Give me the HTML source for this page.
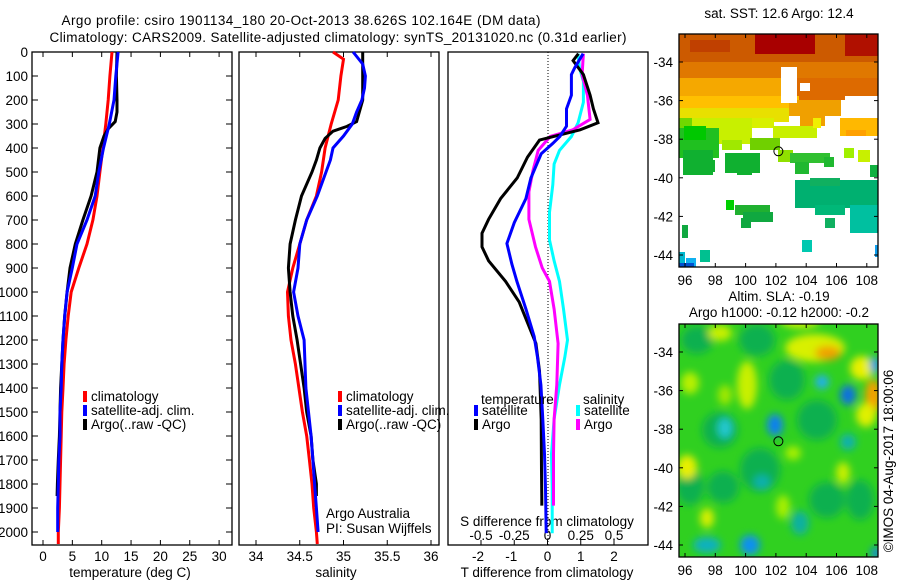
<!DOCTYPE html>
<html><head><meta charset="utf-8"><style>
html,body{margin:0;padding:0;background:#fff;}
svg{display:block;font-family:"Liberation Sans",sans-serif;}
text{fill:#000;font-size:13.5px;}
</style></head><body>
<svg id="fig" width="900" height="580" viewBox="0 0 900 580" xmlns="http://www.w3.org/2000/svg">
<defs>
<filter id="blur" x="-50%" y="-50%" width="200%" height="200%"><feGaussianBlur stdDeviation="4"/></filter>
<clipPath id="clipMap2"><rect x="679" y="324" width="199" height="233"/></clipPath>
<clipPath id="clipMap1"><rect x="679" y="34" width="199" height="233"/></clipPath>
</defs>
<text x="301" y="25" text-anchor="middle" font-size="14.5" textLength="479">Argo profile: csiro 1901134_180 20-Oct-2013 38.626S 102.164E (DM data)</text>
<text x="338" y="42" text-anchor="middle" font-size="14.5" textLength="577">Climatology: CARS2009. Satellite-adjusted climatology: synTS_20131020.nc (0.31d earlier)</text>
<g id="p1"></g>
<g id="p2"></g>
<g id="p3"></g>
<g id="m1"></g>
<g id="m2"></g>
<text transform="translate(893,461) rotate(-90)" text-anchor="middle" font-size="13.5">©IMOS 04-Aug-2017 18:00:06</text>
</svg>
<script>
// ---- data ----
const depthTick = [0,100,200,300,400,500,600,700,800,900,1000,1100,1200,1300,1400,1500,1600,1700,1800,1900,2000];
const tempTicks = [0,5,10,15,20,25,30];
const salTicks = [34,34.5,35,35.5,36];
const salTickLabels = ["34","34.5","35","35.5","36"];
const dTTicks = [-2,-1,0,1,2];
const dSTicks = [-0.5,-0.25,0,0.25,0.5];
const dSTickLabels = ["-0.5","-0.25","0","0.25","0.5"];

const tClimDepth = [0,100,200,300,400,500,600,700,800,900,1000,1100,1200,1300,1400,1500,1600,1700,1800,1900,2000,2050];
const tClim = [11.75,11.4,11.1,10.7,10.2,9.7,9.2,8.5,7.5,6.1,4.8,4.3,3.9,3.6,3.4,3.2,3.1,3.0,2.9,2.8,2.6,2.6];
const tSatDepth = [0,100,200,300,400,500,600,700,800,900,1000,1100,1200,1300,1400,1500,1600,1700,1800,1900,2000];
const tSat = [12.8,12.4,12.1,11.3,10.3,9.5,8.9,7.5,5.8,5.0,4.1,3.7,3.4,3.2,3.1,2.9,2.9,2.7,2.6,2.5,2.5];
const tArgoDepth = [0,100,200,250,290,320,350,400,500,600,700,800,900,1000,1100,1200,1300,1400,1500,1600,1700,1800,1850];
const tArgo = [12.6,12.5,12.6,12.6,12.3,11.1,10.4,9.7,9.2,8.2,6.8,5.5,4.6,4.1,3.7,3.4,3.2,3.0,2.9,2.8,2.6,2.45,2.4];

const sClimDepth = [0,30,100,200,250,300,400,500,600,700,800,900,1000,1100,1200,1300,1400,1500,1600,1700,1800,1900,2000,2050];
const sClim = [34.88,35.0,34.97,34.94,34.9,34.86,34.79,34.75,34.69,34.58,34.5,34.42,34.36,34.37,34.4,34.45,34.49,34.53,34.58,34.61,34.64,34.66,34.69,34.7];
const sSatDepth = [0,50,100,150,200,250,300,350,400,450,500,600,700,800,900,1000,1100,1200,1300,1400,1500,1600,1700,1800,1900,2000];
const sSat = [35.11,35.22,35.25,35.24,35.21,35.15,35.1,35.0,34.88,34.85,34.8,34.7,34.58,34.5,34.48,34.43,34.48,34.55,34.56,34.57,34.6,34.63,34.65,34.67,34.69,34.71];
const sArgoDepth = [0,100,200,290,310,330,360,400,450,500,600,700,800,900,1000,1100,1200,1300,1400,1500,1600,1700,1800,1850];
const sArgo = [35.22,35.22,35.22,35.15,35.04,34.88,34.79,34.73,34.69,34.64,34.52,34.45,34.39,34.37,34.39,34.42,34.47,34.51,34.55,34.58,34.63,34.65,34.69,34.69];

const dTSatDepth = [7,65,94,180,237,309,352,381,424,525,611,711,798,884,956,1071,1186,1272,1387,1530,1674,1818,2005];
const dTSat = [1.07,0.82,0.72,0.72,0.57,0.57,0.37,0.16,-0.19,-0.5,-0.65,-1.0,-1.22,-1.07,-0.92,-0.65,-0.4,-0.3,-0.2,-0.14,-0.09,-0.06,-0.04];
const dTArgoDepth = [7,36,94,180,237,295,324,367,438,525,611,697,755,812,870,956,1042,1128,1214,1329,1530,1746,1861,1890];
const dTArgo = [0.93,0.77,1.08,1.28,1.38,1.52,0.98,-0.24,-0.6,-0.91,-1.41,-1.77,-1.97,-1.97,-1.77,-1.26,-0.85,-0.6,-0.35,-0.24,-0.19,-0.18,-0.17,-0.17];
const dSSatDepth = [7,65,123,209,295,352,410,467,553,668,783,870,956,1071,1200,1272,1387,1530,1674,1818,2005];
const dSSat = [0.23,0.24,0.27,0.27,0.23,0.18,0.09,0.05,0.04,0.015,0.015,0.05,0.09,0.12,0.15,0.13,0.09,0.05,0.03,0.035,0.035];
const dSArgoDepth = [7,94,180,281,324,352,410,496,582,697,812,899,956,1071,1214,1387,1530,1674,1890];
const dSArgo = [0.27,0.26,0.3,0.32,0.19,0.02,-0.07,-0.11,-0.14,-0.14,-0.09,-0.04,0.015,0.05,0.08,0.07,0.05,0.045,0.045];

const mapLonTicks = [96,98,100,102,104,106,108];
const mapLatTicks = [-34,-36,-38,-40,-42,-44];
const argoLon = 102.164, argoLat = -38.626;

// ---- helpers ----
const NS = "http://www.w3.org/2000/svg";
function mk(parent, tag, attrs){ const e=document.createElementNS(NS,tag); for(const k in attrs) e.setAttribute(k,attrs[k]); parent.appendChild(e); return e; }
function txt(parent, x, y, s, anchor){ const e=mk(parent,"text",{x:x,y:y,"text-anchor":anchor||"middle"}); e.textContent=s; return e; }
const Y = d => 52 + 0.24*d;
const TOP=52, BOT=545;
function line(g, xs, ds, fx, color, w){
  let pts=[]; for(let i=0;i<xs.length;i++){ pts.push(fx(xs[i]).toFixed(1)+","+Y(ds[i]).toFixed(1)); }
  return mk(g,"polyline",{points:pts.join(" "),fill:"none",stroke:color,"stroke-width":w||3,"stroke-linejoin":"miter"});
}
function frame(g,x0,x1){ mk(g,"rect",{x:x0,y:TOP,width:x1-x0,height:BOT-TOP,fill:"none",stroke:"#000","stroke-width":1.3}); }
function legendItem(g,x,y,color,label,name){
  const r=mk(g,"rect",{x:x,y:y-8,width:4,height:11,fill:color});
  
  
  const t=txt(g,x+8,y+2,label,"start");
  
  
}

// ---- panel 1 ----
const g1=document.getElementById("p1");
const xT = v => 43 + 5.87*v;
frame(g1,32,232);
depthTick.forEach(d=>{ mk(g1,"line",{x1:32,x2:38,y1:Y(d),y2:Y(d),stroke:"#000"}); mk(g1,"line",{x1:226,x2:232,y1:Y(d),y2:Y(d),stroke:"#000"});
  const t=txt(g1,28,Y(d)+5,String(d),"end");   });
tempTicks.forEach(v=>{ mk(g1,"line",{x1:xT(v),x2:xT(v),y1:TOP,y2:TOP+5,stroke:"#000"}); mk(g1,"line",{x1:xT(v),x2:xT(v),y1:BOT-5,y2:BOT,stroke:"#000"});
  const t=txt(g1,xT(v),561,String(v));   });
let tl=txt(g1,130,577,"temperature (deg C)");  
let l;
l=line(g1,tClim,tClimDepth,xT,"#ff0000");  
l=line(g1,tArgo,tArgoDepth,xT,"#000000");  
l=line(g1,tSat,tSatDepth,xT,"#0000ff");  
legendItem(g1,83,399,"#ff0000","climatology","legend-climatology");
legendItem(g1,83,413,"#0000ff","satellite-adj. clim.","legend-satellite");
legendItem(g1,83,427,"#000000","Argo(..raw -QC)","legend-argo");

// ---- panel 2 ----
const g2=document.getElementById("p2");
const xS = v => 256 + 87.5*(v-34);
frame(g2,239,439);
salTicks.forEach((v,i)=>{ mk(g2,"line",{x1:xS(v),x2:xS(v),y1:TOP,y2:TOP+5,stroke:"#000"}); mk(g2,"line",{x1:xS(v),x2:xS(v),y1:BOT-5,y2:BOT,stroke:"#000"});
  const t=txt(g2,xS(v),561,salTickLabels[i]);   });
tl=txt(g2,336,577,"salinity");  
l=line(g2,sClim,sClimDepth,xS,"#ff0000");  
l=line(g2,sArgo,sArgoDepth,xS,"#000000");  
l=line(g2,sSat,sSatDepth,xS,"#0000ff");  
legendItem(g2,338,399,"#ff0000","climatology","legend2-climatology");
legendItem(g2,338,413,"#0000ff","satellite-adj. clim.","legend2-satellite");
legendItem(g2,338,427,"#000000","Argo(..raw -QC)","legend2-argo");
tl=txt(g2,326,518,"Argo Australia","start");  
tl=txt(g2,326,533,"PI: Susan Wijffels","start");  

// ---- panel 3 ----
const g3=document.getElementById("p3");
const xdT = v => 547.5 + 33.25*v;
const xdS = v => 547.5 + 133*v;
frame(g3,448,648);
mk(g3,"line",{x1:548,x2:548,y1:TOP,y2:BOT,stroke:"#000","stroke-width":1,"stroke-dasharray":"1,2"});
dTTicks.forEach(v=>{ mk(g3,"line",{x1:xdT(v),x2:xdT(v),y1:BOT-5,y2:BOT,stroke:"#000"});
  const t=txt(g3,xdT(v)-(v<0?3:0),561,String(v));   });
dSTicks.forEach((v,i)=>{ const t=txt(g3,xdS(v),540,dSTickLabels[i]);   });
tl=txt(g3,547,526,"S difference from climatology");  
tl=txt(g3,547,577,"T difference from climatology");  
l=line(g3,dSSat,dSSatDepth,xdS,"#00ffff");  
l=line(g3,dSArgo,dSArgoDepth,xdS,"#ff00ff");  
l=line(g3,dTArgo,dTArgoDepth,xdT,"#000000");  
l=line(g3,dTSat,dTSatDepth,xdT,"#0000ff");  
tl=txt(g3,481,404,"temperature","start");  
tl=txt(g3,583,404,"salinity","start");  
legendItem(g3,474,413,"#0000ff","satellite","legend3-t-satellite");
legendItem(g3,474,427,"#000000","Argo","legend3-t-argo");
legendItem(g3,576,413,"#00ffff","satellite","legend3-s-satellite");
legendItem(g3,576,427,"#ff00ff","Argo","legend3-s-argo");

// ---- maps ----
const mX = lon => 685 + 15.15*(lon-96);
function mapAxes(g, y0, lat34){
  const mY = lat => lat34 + 19.3*(-34-lat);
  mk(g,"rect",{x:679,y:y0,width:199,height:233,fill:"none",stroke:"#000","stroke-width":1.3});
  mapLonTicks.forEach(v=>{ mk(g,"line",{x1:mX(v),x2:mX(v),y1:y0,y2:y0+4,stroke:"#000"}); mk(g,"line",{x1:mX(v),x2:mX(v),y1:y0+229,y2:y0+233,stroke:"#000"});
    const t=txt(g,mX(v),y0+251,String(v));   });
  mapLatTicks.forEach(v=>{ mk(g,"line",{x1:679,x2:683,y1:mY(v),y2:mY(v),stroke:"#000"}); mk(g,"line",{x1:874,x2:878,y1:mY(v),y2:mY(v),stroke:"#000"});
    const t=txt(g,673,mY(v)+5,String(v),"end");   });
  const c=mk(g,"circle",{cx:mX(argoLon),cy:mY(argoLat),r:4.5,fill:"none",stroke:"#000","stroke-width":1});
  
  
}
// top map (SST) - approximated colour regions
const m1=document.getElementById("m1");
const gm1=mk(m1,"g",{"clip-path":"url(#clipMap1)"});
[
 [679,34,199,30,"#cc5a00"],[755,34,60,20,"#a80000"],[845,34,33,22,"#b01000"],[690,40,40,12,"#c04000"],
 [679,62,199,18,"#e07800"],[679,78,110,20,"#f5a800"],[795,78,83,22,"#dd6a00"],
 [679,96,120,14,"#ffc000"],[679,108,110,14,"#e8e000"],[789,100,52,16,"#f0a000"],[800,116,25,10,"#f0a000"],
 [845,96,33,22,"#ffffff"],[781,67,16,36,"#ffffff"],[800,83,10,8,"#ffffff"],
 [679,118,15,28,"#70d800"],[692,118,60,26,"#c8f000"],[752,118,22,10,"#d8f000"],[773,126,44,12,"#c8f000"],
 [679,128,40,30,"#20c020"],[684,126,22,14,"#00c800"],[722,140,20,10,"#a0e800"],[750,138,30,12,"#70d000"],
 [813,118,8,10,"#f0f000"],[840,118,38,18,"#ffb800"],[846,130,20,6,"#ffa000"],
 [683,150,30,25,"#10b030"],[705,160,10,12,"#10b030"],[725,153,35,20,"#10b030"],[737,165,15,10,"#10b030"],
 [778,150,15,12,"#90e000"],[790,153,40,10,"#30c030"],[795,162,14,12,"#20b830"],[824,157,10,10,"#20b830"],
 [844,148,10,10,"#a0f000"],[858,150,12,12,"#c8f000"],[870,165,8,12,"#10b040"],
 [795,180,83,28,"#00b070"],[810,178,30,8,"#10b060"],[815,205,30,10,"#00b878"],[850,205,28,28,"#00c0a0"],
 [726,200,8,10,"#00d000"],[735,205,35,10,"#20b030"],[743,212,30,10,"#10a840"],[741,218,10,10,"#10a840"],
 [825,218,10,10,"#10b060"],[682,225,6,13,"#10a840"],[802,240,10,12,"#00c8b0"],[700,250,10,12,"#00c090"],
 [679,252,6,15,"#00b8d0"],[686,258,10,9,"#10b0f0"],[679,263,15,4,"#0050d0"],[875,245,3,12,"#10a0f0"]
].forEach(r=>mk(gm1,"rect",{x:r[0],y:r[1],width:r[2],height:r[3],fill:r[4]}));
mapAxes(m1,34,62);
let mt=txt(m1,779,18,"sat. SST: 12.6 Argo: 12.4");  

// bottom map (SLA)
const m2=document.getElementById("m2");
const gm2=mk(m2,"g",{"clip-path":"url(#clipMap2)"});
mk(gm2,"rect",{x:679,y:324,width:199,height:233,fill:"#30d020"});
const gb=mk(gm2,"g",{filter:"url(#blur)"});
[
 [697,340,16,14,"#10b050"],[757,340,18,16,"#10b050"],[787,380,18,20,"#10b050"],[817,420,20,20,"#10b050"],[690,487,14,18,"#10b050"],
 [827,500,18,18,"#10b050"],[723,487,16,16,"#10b050"],[760,470,20,22,"#10b050"],[720,430,18,18,"#10b050"],[860,500,14,20,"#10b050"],
 [815,348,30,14,"#d8f000"],[828,353,13,7,"#f0a000"],[862,368,12,12,"#e8f000"],[873,397,8,18,"#f5a000"],[866,415,10,12,"#e0f000"],
 [747,385,10,24,"#c8f000"],[687,467,10,12,"#e8f000"],[707,518,7,10,"#d8f000"],[843,473,7,11,"#c8f000"],
 [720,333,12,8,"#c8f000"],[793,453,8,7,"#a8f000"],[783,507,7,12,"#a8f000"],[690,383,9,11,"#b8f000"],[725,395,7,10,"#a0e800"],[800,320,20,8,"#d0f000"],
 [822,382,7,7,"#20b0f0"],[848,395,8,10,"#1070e0"],[775,425,8,11,"#1080f0"],[725,428,7,10,"#20c8d0"],[848,442,8,8,"#10b0b0"],
 [750,545,10,10,"#1090f0"],[762,482,8,7,"#10b0b0"],[800,523,9,12,"#10b0a0"],[875,365,5,8,"#1090f0"],[707,545,14,8,"#10b0c0"],[876,553,5,6,"#1080f0"]
].forEach(e=>mk(gb,"ellipse",{cx:e[0],cy:e[1],rx:e[2],ry:e[3],fill:e[4]}));
mapAxes(m2,324,352);
mt=txt(m2,779,301,"Altim. SLA: -0.19");  
mt=txt(m2,779,317,"Argo h1000: -0.12 h2000: -0.2");  
</script>
</body></html>
